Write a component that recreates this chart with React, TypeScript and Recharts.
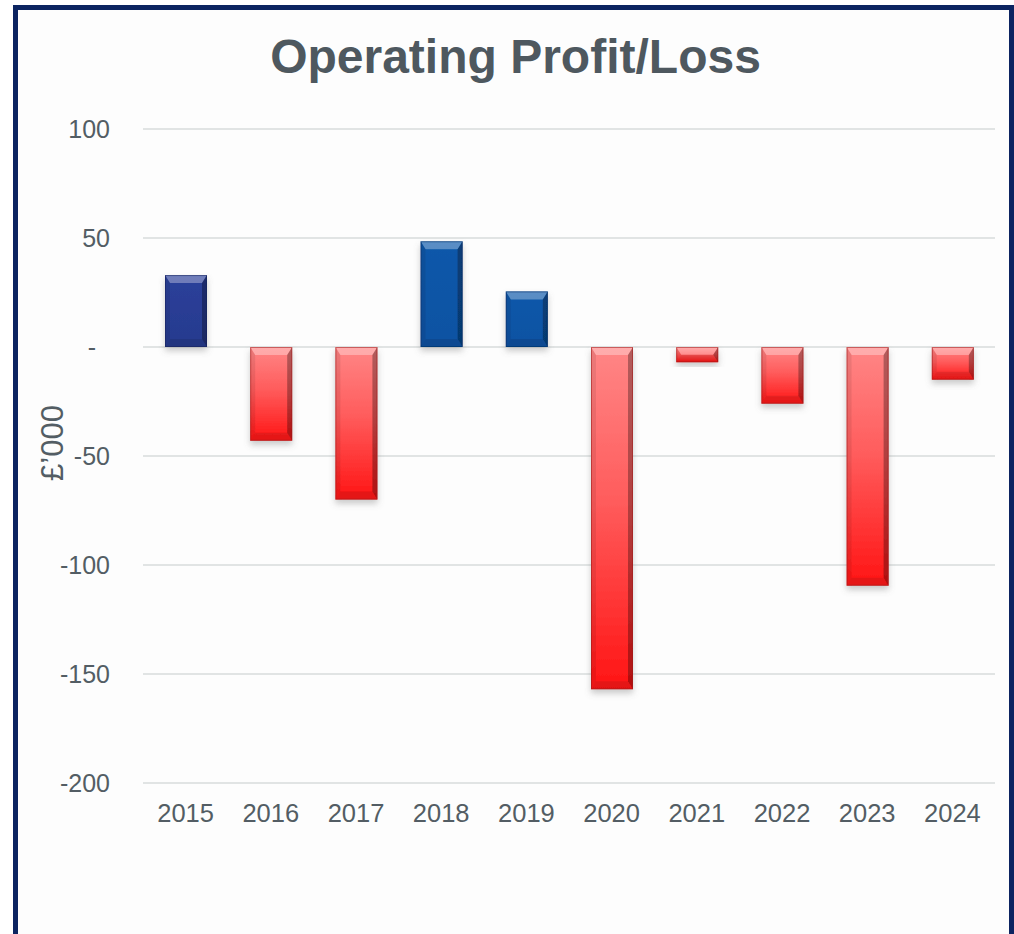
import React from 'react';
import { BarChart, Bar, XAxis, YAxis, CartesianGrid } from 'recharts';

const categories = ['2015', '2016', '2017', '2018', '2019', '2020', '2021', '2022', '2023', '2024'];
const profitValues = [33, -43, -70, 48.5, 25.5, -157, -7, -26, -109.5, -15];
const yTicks = [-200, -150, -100, -50, 0, 50, 100];

const data = categories.map((year, i) => ({ year, value: profitValues[i] }));

const FONT = '"Liberation Sans", Arial, Helvetica, sans-serif';
const TEXT = '#535d64';

const fillFor = (index: number, value: number) => {
  if (value < 0) return 'url(#redGrad)';
  return index === 0 ? 'url(#navyGrad)' : 'url(#blueGrad)';
};
const strokeFor = (index: number, value: number) => {
  if (value < 0) return '#9e1c1c';
  return index === 0 ? '#15215a' : '#062f66';
};

const BevelBar = (props: any) => {
  const { x, y, width, height, index, value } = props;
  if (width == null || height == null) return null;
  const top = Math.min(y, y + height);
  const h = Math.abs(height);
  const w = width;
  const bt = Math.min(8, h / 2);
  const bs = Math.min(5, w / 2);
  const l = x;
  const r = x + w;
  const bot = top + h;
  return (
    <g filter="url(#barShadow)">
      <rect x={l} y={top} width={w} height={h} fill={fillFor(index, value)} />
      <polygon points={`${l},${top} ${r},${top} ${r - bs},${top + bt} ${l + bs},${top + bt}`} fill="#ffffff" fillOpacity={0.32} />
      <polygon points={`${l},${bot} ${r},${bot} ${r - bs},${bot - bt} ${l + bs},${bot - bt}`} fill="#000000" fillOpacity={0.1} />
      <polygon points={`${l},${top} ${l + bs},${top + bt} ${l + bs},${bot - bt} ${l},${bot}`} fill="#000000" fillOpacity={0.08} />
      <polygon points={`${r},${top} ${r - bs},${top + bt} ${r - bs},${bot - bt} ${r},${bot}`} fill="#000000" fillOpacity={0.3} />
      <rect x={l + 0.5} y={top + 0.5} width={Math.max(0, w - 1)} height={Math.max(0, h - 1)} fill="none" stroke={strokeFor(index, value)} strokeOpacity={0.55} strokeWidth={1} />
    </g>
  );
};

const YTick = (props: any) => {
  const { x, y, payload } = props;
  const v = payload.value;
  return (
    <text x={v === 0 ? x - 14 : x} y={y} dy="0.355em" textAnchor="end" fill={TEXT} fontSize={25} fontFamily={FONT}>
      {v === 0 ? '-' : String(v)}
    </text>
  );
};

const XTick = (props: any) => {
  const { x, y, payload } = props;
  return (
    <text x={x} y={y} dy="0.71em" textAnchor="middle" fill={TEXT} fontSize={25.5} fontFamily={FONT}>
      {payload.value}
    </text>
  );
};

const YLabel = () => (
  <text
    x={52}
    y={443}
    dy="0.355em"
    textAnchor="middle"
    transform="rotate(-90 52 443)"
    fill={TEXT}
    fontSize={31}
    fontFamily={FONT}
  >
    £’000
  </text>
);

export default function App() {
  return (
    <div style={{ position: 'absolute', left: 0, top: 0, width: 1014, height: 934, overflow: 'hidden', background: '#ffffff' }}>
      <svg width={0} height={0} style={{ position: 'absolute' }}>
        <defs>
          <linearGradient id="redGrad" x1="0" y1="0" x2="0" y2="1">
            <stop offset="0%" stopColor="#ff8686" />
            <stop offset="45%" stopColor="#ff5c5c" />
            <stop offset="100%" stopColor="#ff1414" />
          </linearGradient>
          <linearGradient id="navyGrad" x1="0" y1="0" x2="0" y2="1">
            <stop offset="0%" stopColor="#2c409a" />
            <stop offset="100%" stopColor="#263a8e" />
          </linearGradient>
          <linearGradient id="blueGrad" x1="0" y1="0" x2="0" y2="1">
            <stop offset="0%" stopColor="#0c58aa" />
            <stop offset="100%" stopColor="#0a52a2" />
          </linearGradient>
          <filter id="barShadow" x="-30%" y="-30%" width="160%" height="160%">
            <feDropShadow dx="0" dy="4" stdDeviation="3" floodColor="#6b6b6b" floodOpacity="0.35" />
          </filter>
        </defs>
      </svg>
      <div
        style={{
          position: 'absolute',
          left: 13,
          top: 5,
          width: 1001,
          height: 1100,
          boxSizing: 'border-box',
          border: '5px solid #0c2461',
          background: '#fdfdfd',
        }}
      />
      <div
        style={{
          position: 'absolute',
          left: 0,
          width: 1031,
          top: 33,
          textAlign: 'center',
          fontFamily: FONT,
          fontWeight: 'bold',
          fontSize: 48,
          lineHeight: '48px',
          color: '#4e585f',
        }}
      >
        Operating Profit/Loss
      </div>
      <div style={{ position: 'absolute', left: 0, top: 0 }}>
        <BarChart
          width={1014}
          height={934}
          data={data}
          margin={{ top: 129, right: 19, left: 0, bottom: 111 }}
        >
          <CartesianGrid vertical={false} stroke="#e1e4e4" strokeWidth={2} />
          <XAxis
            dataKey="year"
            axisLine={false}
            tickLine={false}
            tickSize={0}
            tickMargin={21}
            height={40}
            interval={0}
            tick={(p: any) => <XTick {...p} />}
          />
          <YAxis
            type="number"
            domain={[-200, 100]}
            ticks={yTicks}
            interval={0}
            width={143}
            axisLine={false}
            tickLine={false}
            tickSize={0}
            tickMargin={33}
            tick={(p: any) => <YTick {...p} />}
            label={{ content: () => <YLabel /> }}
          />
          <Bar dataKey="value" barSize={42} isAnimationActive={false} shape={(p: any) => <BevelBar {...p} />} />
        </BarChart>
      </div>
    </div>
  );
}
